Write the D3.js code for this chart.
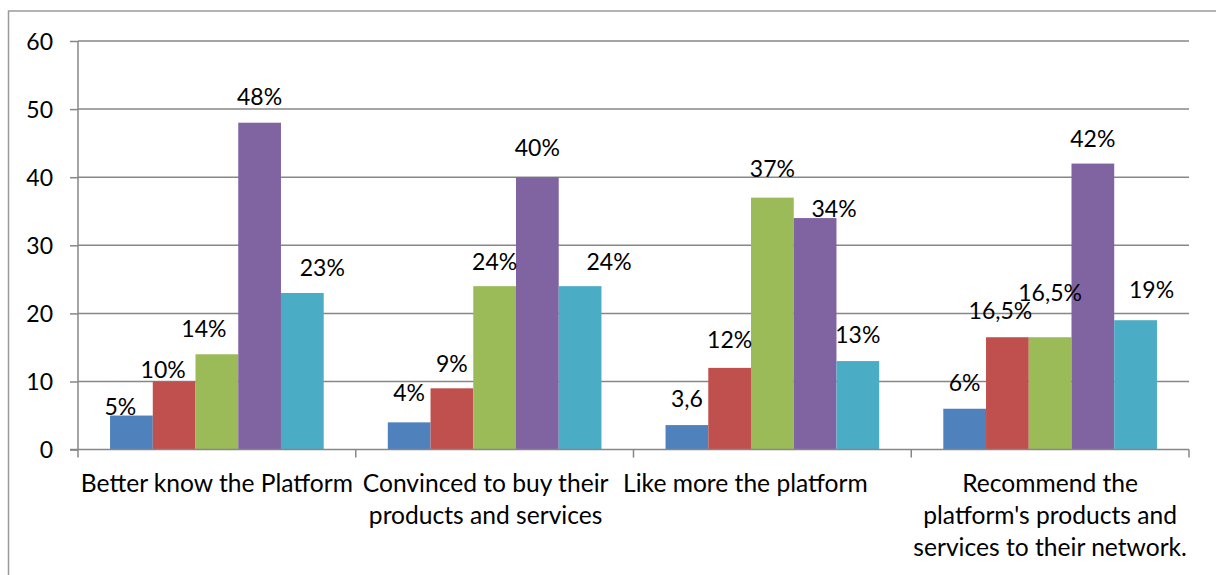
<!DOCTYPE html>
<html>
<head>
<meta charset="utf-8">
<script src="https://cdn.jsdelivr.net/npm/d3@7"></script>
<style>
  html, body { margin: 0; padding: 0; background: #fff; }
  svg { display: block; }
  text { font-family: Lato, "Open Sans", sans-serif; fill: #000; }
</style>
</head>
<body>
<svg id="chart" width="1216" height="575"></svg>
<script>
// Survey outcomes per category, one value per series (percent)
const categories = [
  ["Better know the Platform"],
  ["Convinced to buy their", "products and services"],
  ["Like more the platform"],
  ["Recommend the", "platform's products and", "services to their network."]
];
const seriesNames = ["S1", "S2", "S3", "S4", "S5"];
const seriesColors = ["#4F81BD", "#C0504D", "#9BBB59", "#8064A2", "#4BACC6"];

const values = [
  [5, 10, 14, 48, 23],
  [4, 9, 24, 40, 24],
  [3.6, 12, 37, 34, 13],
  [6, 16.5, 16.5, 42, 19]
];
const valueLabels = [
  ["5%", "10%", "14%", "48%", "23%"],
  ["4%", "9%", "24%", "40%", "24%"],
  ["3,6", "12%", "37%", "34%", "13%"],
  ["6%", "16,5%", "16,5%", "42%", "19%"]
];
const yTicks = [0, 10, 20, 30, 40, 50, 60];

// Hand-placed data label nudges [dx, dy] in px, per category and series
const labelNudge = [
  [[-11, 17], [-11, 14], [-13, 1], [0, 0], [20, 1]],
  [[0, -3], [0, 2], [0, 2], [0, -3], [29, 2]],
  [[0, 0], [0, -2], [0, -3], [19, 17], [0, 0]],
  [[0, 0], [-7, 0], [0, -18], [0, 1], [16, -4]]
];
// Horizontal shift of each category label block
const catLabelShift = [0, -9, -27, 0];

const svg = d3.select("#chart");
const plot = { left: 78, right: 1189, top: 41, bottom: 449.6 };

// Outer chart frame (extends past the visible canvas on the right and bottom)
svg.append("rect")
  .attr("x", 8.5).attr("y", 11)
  .attr("width", 1300).attr("height", 700)
  .attr("fill", "none")
  .attr("stroke", "#9a9a9a")
  .attr("stroke-width", 1.5);

const x0 = d3.scaleBand()
  .domain(d3.range(categories.length))
  .range([plot.left, plot.right])
  .paddingInner(0).paddingOuter(0);

const x1 = d3.scaleBand()
  .domain(d3.range(seriesNames.length))
  .range([0, x0.bandwidth()])
  .paddingInner(0).paddingOuter(0.75);

const y = d3.scaleLinear().domain([0, 60]).range([plot.bottom, plot.top]);

const gridColor = "#878787";

// Horizontal gridlines
svg.append("g")
  .selectAll("line")
  .data(yTicks.filter(d => d > 0))
  .join("line")
  .attr("x1", plot.left).attr("x2", plot.right)
  .attr("y1", d => y(d)).attr("y2", d => y(d))
  .attr("stroke", gridColor).attr("stroke-width", 1.5);

// Value axis
const yAxis = svg.append("g")
  .attr("transform", `translate(${plot.left},0)`)
  .call(d3.axisLeft(y).tickValues(yTicks).tickSize(8).tickPadding(17).tickFormat(d3.format("d")));
yAxis.select(".domain").attr("stroke", gridColor).attr("stroke-width", 1.5)
  .attr("d", `M0,${plot.top}V${plot.bottom}`);
yAxis.selectAll(".tick line").attr("stroke", gridColor).attr("stroke-width", 1.5);
yAxis.selectAll(".tick text")
  .style("font-family", "Lato, sans-serif")
  .style("font-size", "23px")
  .attr("fill", "#000")
  .attr("dy", "0.36em");

// Bars
const groups = svg.append("g")
  .selectAll("g")
  .data(values)
  .join("g")
  .attr("transform", (d, i) => `translate(${x0(i)},0)`);

groups.selectAll("rect")
  .data(d => d)
  .join("rect")
  .attr("x", (d, j) => x1(j))
  .attr("width", x1.bandwidth())
  .attr("y", d => y(d))
  .attr("height", d => y(0) - y(d))
  .attr("fill", (d, j) => seriesColors[j]);

// Category axis line and boundary ticks
svg.append("line")
  .attr("x1", plot.left - 8).attr("x2", plot.right)
  .attr("y1", y(0)).attr("y2", y(0))
  .attr("stroke", gridColor).attr("stroke-width", 1.5);

const boundaries = d3.range(categories.length).map(i => x0(i)).concat([plot.right]);
svg.append("g")
  .selectAll("line")
  .data(boundaries)
  .join("line")
  .attr("x1", d => d).attr("x2", d => d)
  .attr("y1", y(0)).attr("y2", y(0) + 8)
  .attr("stroke", gridColor).attr("stroke-width", 1.5);

// Data labels
groups.each(function(row, i) {
  d3.select(this).selectAll("text")
    .data(row)
    .join("text")
    .attr("x", (d, j) => x1(j) + x1.bandwidth() / 2 + labelNudge[i][j][0])
    .attr("y", (d, j) => y(d) - 18 + labelNudge[i][j][1])
    .attr("text-anchor", "middle")
    .style("font-size", "23px")
    .text((d, j) => valueLabels[i][j]);
});

// Category labels (wrapped lines)
svg.append("g")
  .selectAll("text")
  .data(categories)
  .join("text")
  .attr("text-anchor", "middle")
  .style("font-size", "24.6px")
  .attr("transform", (d, i) => `translate(${x0(i) + x0.bandwidth() / 2 + catLabelShift[i]},491.5)`)
  .selectAll("tspan")
  .data(d => d)
  .join("tspan")
  .attr("x", 0)
  .attr("y", (d, k) => k * 32.3)
  .text(d => d);
</script>
</body>
</html>
